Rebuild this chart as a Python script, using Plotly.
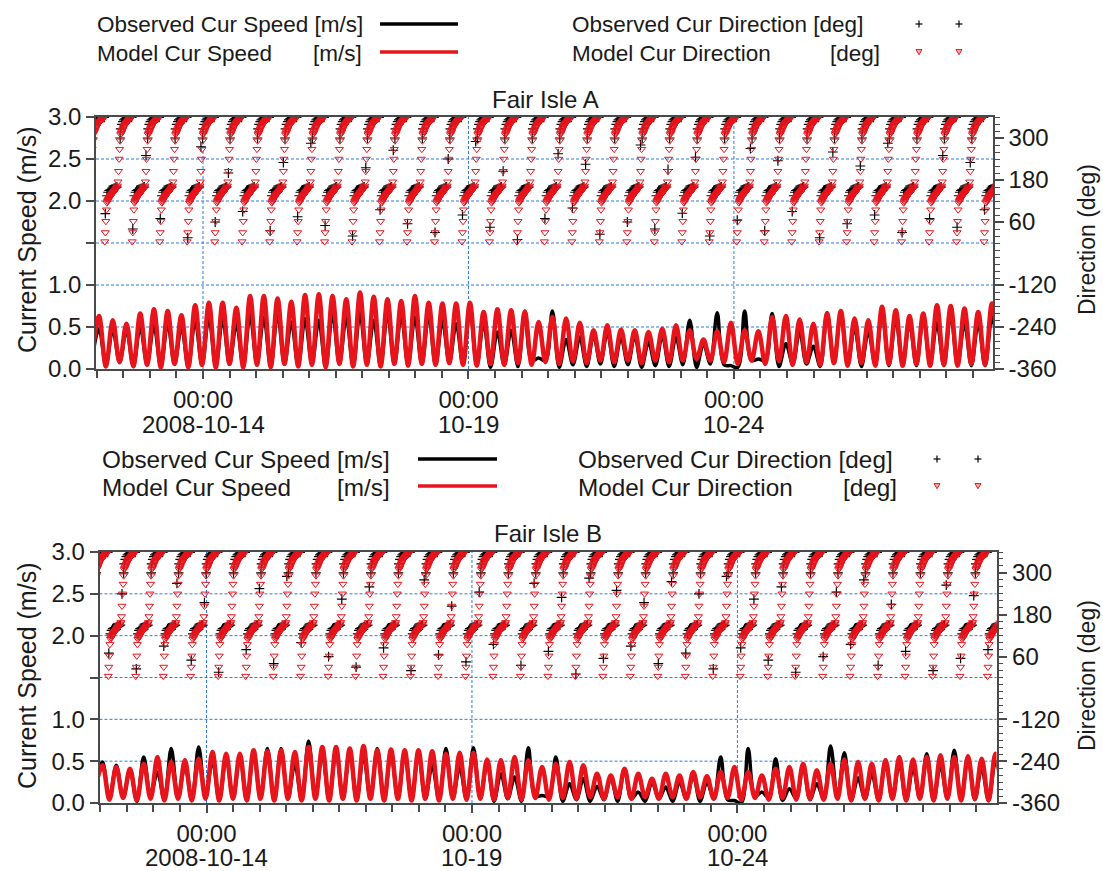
import pandas as pd
import plotly.graph_objects as go

W, H = 1103, 871
FONT = "Liberation Sans, Arial, sans-serif"
TXT = "#1a1a1a"
AXC = "#4a4a4a"
GRID = "#2b7be6"
RED = "#e8141c"

# ---------------- time base ----------------
first_slack = "2008-10-11 21:53"
half_tide_hours = 3.105
tide_cycle_hours = 12.42
samples_per_cycle = 50
x_range = ["2008-10-11 23:38", "2008-10-28 21:07"]
tick_dates = ["2008-10-14", "2008-10-19", "2008-10-24"]
tick_time = ["00:00", "00:00", "00:00"]
tick_day = ["2008-10-14", "10-19", "10-24"]
speed_ticks = [0, 0.5, 1.0, 1.5, 2.0, 2.5, 3.0]
speed_ticktext = ["0.0", "0.5", "1.0", "", "2.0", "2.5", "3.0"]
grid_speeds = [0.5, 1.0, 1.5, 2.0, 2.5]
dir_ticks = [-360, -240, -120, 60, 180, 300]
dir_ticktext = ["-360", "-240", "-120", "60", "180", "300"]

# ---------------- speeds: trough / peak values of each half tide ----------------
model_peaks_A = [0.63, 0.58, 0.54, 0.66, 0.71, 0.69, 0.64, 0.76, 0.79, 0.79, 0.73, 0.87, 0.87, 0.84, 0.80, 0.88, 0.89, 0.87, 0.83, 0.91, 0.86, 0.83,
                 0.81, 0.87, 0.79, 0.78, 0.78, 0.79, 0.68, 0.71, 0.70, 0.68, 0.56, 0.62, 0.60, 0.55, 0.46, 0.52, 0.47, 0.46, 0.44, 0.48, 0.52, 0.46,
                 0.35, 0.45, 0.55, 0.46, 0.45, 0.62, 0.63, 0.59, 0.54, 0.66, 0.69, 0.60, 0.58, 0.74, 0.70, 0.63, 0.66, 0.76, 0.75, 0.72, 0.68, 0.78]
model_troughs_A = [0.15, 0.03, 0.08, 0.03, 0.05, 0.02, 0.06, 0.02, 0.05, 0.02, 0.06, 0.02, 0.05, 0.02, 0.06, 0.03, 0.05, 0.02, 0.06, 0.03, 0.05, 0.03,
                   0.06, 0.04, 0.06, 0.05, 0.07, 0.05, 0.04, 0.06, 0.05, 0.07, 0.05, 0.08, 0.06, 0.09, 0.07, 0.10, 0.08, 0.10, 0.07, 0.10, 0.08, 0.10,
                   0.12, 0.10, 0.08, 0.06, 0.10, 0.06, 0.09, 0.05, 0.08, 0.05, 0.07, 0.04, 0.07, 0.04, 0.06, 0.04, 0.06, 0.04, 0.05, 0.04, 0.06, 0.05, 0.10]
obs_peaks_A = [0.48, 0.47, 0.46, 0.50, 0.52, 0.54, 0.50, 0.58, 0.62, 0.60, 0.54, 0.64, 0.62, 0.66, 0.56, 0.60, 0.58, 0.66, 0.62, 0.66, 0.58, 0.66,
               0.64, 0.62, 0.64, 0.58, 0.54, 0.71, 0.55, 0.44, 0.46, 0.69, 0.13, 0.69, 0.35, 0.38, 0.40, 0.44, 0.38, 0.40, 0.32, 0.40, 0.38, 0.58,
               0.30, 0.67, 0.04, 0.69, 0.12, 0.66, 0.30, 0.45, 0.27, 0.67, 0.66, 0.50, 0.45, 0.68, 0.60, 0.55, 0.62, 0.55, 0.65, 0.55, 0.55, 0.62]
obs_troughs_A = [0.12, 0.05, 0.08, 0.04, 0.06, 0.03, 0.06, 0.03, 0.05, 0.03, 0.06, 0.04, 0.06, 0.03, 0.06, 0.04, 0.06, 0.03, 0.06, 0.04, 0.06, 0.04,
                 0.06, 0.05, 0.06, 0.05, 0.07, 0.05, 0.05, 0.02, 0.05, 0.03, 0.10, 0.10, 0.02, 0.05, 0.03, 0.06, 0.03, 0.05, 0.02, 0.04, 0.03, 0.05,
                 0.02, 0.06, 0.05, 0.02, 0.10, 0.10, 0.03, 0.06, 0.06, 0.03, 0.08, 0.05, 0.03, 0.06, 0.04, 0.06, 0.04, 0.06, 0.04, 0.05, 0.04, 0.04, 0.10]

model_peaks_B = [0.45, 0.43, 0.41, 0.47, 0.55, 0.49, 0.51, 0.53, 0.61, 0.59, 0.59, 0.63, 0.62, 0.63, 0.61, 0.67, 0.67, 0.67, 0.65, 0.68, 0.63, 0.64,
                 0.63, 0.63, 0.62, 0.59, 0.60, 0.60, 0.52, 0.51, 0.55, 0.51, 0.43, 0.47, 0.49, 0.45, 0.35, 0.33, 0.41, 0.35, 0.29, 0.35, 0.33, 0.37,
                 0.32, 0.37, 0.43, 0.37, 0.33, 0.41, 0.43, 0.47, 0.39, 0.47, 0.52, 0.49, 0.47, 0.51, 0.55, 0.52, 0.55, 0.57, 0.55, 0.56, 0.53, 0.59]
model_troughs_B = [0.20, 0.04, 0.06, 0.03, 0.05, 0.03, 0.05, 0.03, 0.05, 0.03, 0.05, 0.03, 0.05, 0.03, 0.05, 0.03, 0.05, 0.03, 0.05, 0.03, 0.05, 0.03,
                   0.05, 0.03, 0.05, 0.03, 0.05, 0.04, 0.05, 0.04, 0.06, 0.04, 0.06, 0.04, 0.06, 0.05, 0.07, 0.05, 0.07, 0.05, 0.07, 0.05, 0.07, 0.05,
                   0.07, 0.05, 0.06, 0.04, 0.06, 0.04, 0.06, 0.04, 0.05, 0.04, 0.05, 0.03, 0.05, 0.03, 0.05, 0.03, 0.05, 0.03, 0.05, 0.03, 0.05, 0.03, 0.10]
obs_peaks_B = [0.49, 0.45, 0.39, 0.55, 0.37, 0.65, 0.45, 0.67, 0.51, 0.55, 0.55, 0.59, 0.65, 0.65, 0.47, 0.74, 0.59, 0.63, 0.61, 0.57, 0.65, 0.60,
               0.60, 0.60, 0.45, 0.65, 0.43, 0.66, 0.48, 0.35, 0.31, 0.66, 0.09, 0.55, 0.23, 0.29, 0.20, 0.30, 0.41, 0.13, 0.25, 0.19, 0.25, 0.33,
               0.25, 0.55, 0.03, 0.65, 0.13, 0.53, 0.17, 0.45, 0.23, 0.68, 0.60, 0.30, 0.35, 0.51, 0.47, 0.42, 0.59, 0.45, 0.63, 0.55, 0.42, 0.50]
obs_troughs_B = [0.15, 0.05, 0.07, 0.02, 0.08, 0.04, 0.06, 0.03, 0.06, 0.03, 0.05, 0.03, 0.06, 0.03, 0.05, 0.03, 0.06, 0.03, 0.05, 0.03, 0.05, 0.03,
                 0.05, 0.04, 0.05, 0.03, 0.05, 0.04, 0.05, 0.02, 0.05, 0.02, 0.08, 0.08, 0.02, 0.04, 0.02, 0.04, 0.02, 0.05, 0.02, 0.05, 0.02, 0.05,
                 0.02, 0.05, 0.04, 0.00, 0.08, 0.06, 0.03, 0.05, 0.04, 0.05, 0.06, 0.03, 0.05, 0.03, 0.05, 0.03, 0.05, 0.03, 0.05, 0.03, 0.04, 0.03, 0.10]

# ---------------- directions over one tidal cycle (deg) ----------------
model_turn_to_ebb = [268, 292]
model_ebb = [310, 314, 318, 322, 326, 330, 333, 336, 338, 340, 342, 344, 346, 348, 350, 352, 354, 356, 357, 358, 359]
model_turn_to_flood = [4, 30, 62, 95]
model_flood_A = [115, 119, 122, 125, 128, 131, 133, 135, 137, 139, 141, 143, 145, 147, 149, 151, 153, 156, 159, 163]
model_flood_B = [110, 114, 117, 120, 123, 126, 128, 130, 132, 134, 136, 138, 140, 142, 144, 146, 148, 151, 154, 158]
model_turn_end = [175, 205, 240]

obs_ebb = [326, None, 339, None, 347, None, 352, None, 355, None, 357, None, 358, None, 359, None, 359, None, 359, None, 359]
obs_flood_A = [135, None, 145, None, 150, None, 152, None, 153, None, 154, None, 155, None, 156, None, 158, None, 160, None]
obs_flood_B = [125, None, 135, None, 140, None, 142, None, 143, None, 144, None, 145, None, 146, None, 148, None, 150, None]
# one slack-water reading per cycle (cycles -1 .. 33)
obs_low_A = [None, 84, 40, 70, 15, 60, 90, 35, 75, 50, 20, 95, 55, 30, 80, 45, 10, 70, 100, 25, 60, 40, 85, 20, 65, 35, 90, 15, 55, 80, 30, 70, 45, 95, None]
obs_high_A = [None, None, 250, None, 275, 200, None, 230, 285, None, 215, 265, None, 240, 290, 205, None, 255, 225, None, 280, 210, 245, None, 270, 235, None, 260, 220, 285, None, 250, 230, None, None]
obs_low_B = [None, 70, 25, 90, 50, 15, 80, 40, 100, 60, 30, 85, 20, 65, 45, 95, 35, 75, 10, 55, 90, 40, 70, 25, 85, 50, 15, 60, 95, 35, 75, 20, 55, 80, None]
obs_high_B = [None, 240, None, 270, 215, None, 255, 290, None, 225, 260, None, 280, 205, 245, None, 270, 230, 285, 250, 215, 275, 240, 290, 225, 260, None, 245, 280, 210, None, 265, 235, None, None]


def speed_xy(troughs, peaks):
    t = pd.Timestamp(first_slack)
    step = pd.Timedelta(hours=half_tide_hours)
    xs, ys = [], []
    for j, tr in enumerate(troughs):
        xs.append(t + step * (2 * j)); ys.append(tr)
        if j < len(peaks):
            xs.append(t + step * (2 * j + 1)); ys.append(peaks[j])
    return xs, ys


def dir_xy(cycles):
    t = pd.Timestamp(first_slack)
    cyc = pd.Timedelta(hours=tide_cycle_hours)
    xs, ys = [], []
    for n, vals in enumerate(cycles):
        i = n - 1
        for s, v in enumerate(vals):
            if v is None:
                continue
            xs.append(t + cyc * (i + s / samples_per_cycle)); ys.append(v)
    return xs, ys


def model_cycles(flood):
    tpl = model_turn_to_ebb + model_ebb + model_turn_to_flood + flood + model_turn_end
    return [tpl] * len(obs_low_A)


def obs_cycles(flood, lows, highs):
    out = []
    for lo, hi in zip(lows, highs):
        out.append([None, 300] + obs_ebb + [None, lo, None, None] + flood + [None, hi, None])
    return out


fig = go.Figure()


def px_x(v):
    return v / W


def px_y(v):
    return 1 - v / H


panels = [
    dict(xa="x", ya="y", ya2="y2", xdom=(96, 993), ydom=(117, 369), daty=425,
         mod=(model_troughs_A, model_peaks_A), obs=(obs_troughs_A, obs_peaks_A),
         mdir=model_cycles(model_flood_A), odir=obs_cycles(obs_flood_A, obs_low_A, obs_high_A)),
    dict(xa="x2", ya="y3", ya2="y4", xdom=(99.5, 996.5), ydom=(552, 803), daty=857,
         mod=(model_troughs_B, model_peaks_B), obs=(obs_troughs_B, obs_peaks_B),
         mdir=model_cycles(model_flood_B), odir=obs_cycles(obs_flood_B, obs_low_B, obs_high_B)),
]

shapes = []
# dotted blue grid drawn below the data
for p in panels:
    for g in grid_speeds:
        shapes.append(dict(type="line", layer="below", xref=p["xa"] + " domain", yref=p["ya"], x0=0, x1=1,
                           y0=g, y1=g, line=dict(color=GRID, width=1, dash="3px,2px")))
    for d in tick_dates:
        shapes.append(dict(type="line", layer="below", xref=p["xa"], yref=p["ya"] + " domain", x0=d, x1=d,
                           y0=0, y1=1, line=dict(color=GRID, width=1, dash="3px,2px")))

for p in panels:
    ox, oy = dir_xy(p["odir"])
    fig.add_trace(go.Scatter(x=ox, y=oy, xaxis=p["xa"], yaxis=p["ya2"], mode="markers",
                             marker=dict(symbol="cross-thin-open", size=7, color="black",
                                         line=dict(color="black", width=1.2)),
                             showlegend=False))
    mx, my = dir_xy(p["mdir"])
    fig.add_trace(go.Scatter(x=mx, y=my, xaxis=p["xa"], yaxis=p["ya2"], mode="markers",
                             marker=dict(symbol="triangle-down-open", size=7, color=RED, line=dict(color=RED, width=1)),
                             showlegend=False))
    sx, sy = speed_xy(*p["obs"])
    fig.add_trace(go.Scatter(x=sx, y=sy, xaxis=p["xa"], yaxis=p["ya"], mode="lines",
                             line=dict(color="black", width=3.5, shape="spline", smoothing=1.0), showlegend=False))
    sx, sy = speed_xy(*p["mod"])
    fig.add_trace(go.Scatter(x=sx, y=sy, xaxis=p["xa"], yaxis=p["ya"], mode="lines",
                             line=dict(color=RED, width=4.5, shape="spline", smoothing=1.0), showlegend=False))

TICKF = dict(family=FONT, size=24, color=TXT)
common_x = dict(type="date", range=x_range, tickmode="array", tickvals=tick_dates, ticktext=tick_time,
                ticks="outside", ticklen=8, tickwidth=1.5, tickcolor=AXC, showline=True, linecolor=AXC,
                linewidth=1.5, mirror=True, showgrid=False,
                zeroline=False, tickfont=TICKF, automargin=False,
                minor=dict(ticks="outside", ticklen=7, tickwidth=1.5, tickcolor=AXC, dtick=12 * 3600 * 1000,
                           tick0="2008-10-12 00:00", showgrid=False))
common_y = dict(range=[0, 3], tickmode="array", tickvals=speed_ticks, ticktext=speed_ticktext,
                ticks="outside", ticklen=8, tickwidth=1.5, tickcolor=AXC, showline=True, linecolor=AXC,
                linewidth=1.5, showgrid=False, zeroline=False,
                tickfont=TICKF, automargin=False)
common_y2 = dict(range=[-360, 360], tickmode="array", tickvals=dir_ticks, ticktext=dir_ticktext, side="right",
                 ticks="outside", ticklen=9, tickwidth=1.5, tickcolor=AXC, showline=True, linecolor=AXC,
                 linewidth=1.5, showgrid=False, zeroline=False, tickfont=TICKF, automargin=False,
                 minor=dict(tickmode="linear", tick0=-360, dtick=20, ticks="outside", ticklen=5, tickwidth=1.2,
                            tickcolor=AXC, showgrid=False))

pA, pB = panels
fig.update_layout(
    template="none",
    width=W, height=H, autosize=False, margin=dict(l=0, r=0, t=0, b=0, pad=0),
    paper_bgcolor="white", plot_bgcolor="white", showlegend=False,
    xaxis=dict(common_x, domain=[px_x(pA["xdom"][0]), px_x(pA["xdom"][1])], anchor="y"),
    yaxis=dict(common_y, domain=[px_y(pA["ydom"][1]), px_y(pA["ydom"][0])], anchor="x"),
    yaxis2=dict(common_y2, overlaying="y", anchor="x"),
    xaxis2=dict(common_x, domain=[px_x(pB["xdom"][0]), px_x(pB["xdom"][1])], anchor="y3"),
    yaxis3=dict(common_y, domain=[px_y(pB["ydom"][1]), px_y(pB["ydom"][0])], anchor="x2"),
    yaxis4=dict(common_y2, overlaying="y3", anchor="x2"),
)

ann = []


def text(xp, yp, s, size, anchor="left", angle=0):
    ann.append(dict(x=px_x(xp), y=px_y(yp), xref="paper", yref="paper", text=s, showarrow=False,
                    xanchor=anchor, yanchor="middle", textangle=angle,
                    font=dict(family=FONT, size=size, color=TXT)))


def hline(x0, x1, y, color, width):
    shapes.append(dict(type="line", xref="paper", yref="paper", x0=px_x(x0), x1=px_x(x1),
                       y0=px_y(y), y1=px_y(y), line=dict(color=color, width=width)))


def cross(x, y, r=3.5):
    hline(x - r, x + r, y, "black", 1.2)
    shapes.append(dict(type="line", xref="paper", yref="paper", x0=px_x(x), x1=px_x(x),
                       y0=px_y(y - r), y1=px_y(y + r), line=dict(color="black", width=1.2)))


def tri(x, y, r=3):
    path = "M {} {} L {} {} L {} {} Z".format(px_x(x - r), px_y(y - r * 0.8), px_x(x + r), px_y(y - r * 0.8),
                                             px_x(x), px_y(y + r * 0.9))
    shapes.append(dict(type="path", xref="paper", yref="paper", path=path, fillcolor="#f6b0b0",
                       line=dict(color=RED, width=1)))


def legend(y1, y2, xl, xunit, xline0, xline1, xd, xdunit, xm1, xm2, size):
    text(xl, y1, "Observed Cur Speed [m/s]", size)
    text(xl, y2, "Model Cur Speed", size)
    text(xunit, y2, "[m/s]", size, anchor="right")
    hline(xline0, xline1, y1, "black", 3.5)
    hline(xline0, xline1, y2 - 1, RED, 3.5)
    text(xd, y1, "Observed Cur Direction [deg]", size)
    text(xd, y2, "Model Cur Direction", size)
    text(xdunit, y2, "[deg]", size, anchor="right")
    for xm in (xm1, xm2):
        cross(xm, y1)
        tri(xm, y2 - 1)


legend(24, 53, 95, 364, 380, 458, 570, 882, 919, 959, 22.5)
legend(459, 487, 100, 392, 418, 497, 576, 899, 937, 978, 24.3)

text(545, 100, "Fair Isle A", 24, anchor="center")
text(548, 533, "Fair Isle B", 24, anchor="center")
for yc in (240, 676):
    text(27, yc, "Current Speed (m/s)", 25, anchor="center", angle=-90)
    text(1087, yc, "Direction (deg)", 23, anchor="center", angle=-90)

# second line of the date tick labels, tied to the date axis
for p in panels:
    for d, lab in zip(tick_dates, tick_day):
        ann.append(dict(x=d, y=px_y(p["daty"]), xref=p["xa"], yref="paper", text=lab, showarrow=False,
                        xanchor="center", yanchor="middle", borderpad=0, font=TICKF))

fig.update_layout(annotations=ann, shapes=shapes)
fig.write_html("out.html")
